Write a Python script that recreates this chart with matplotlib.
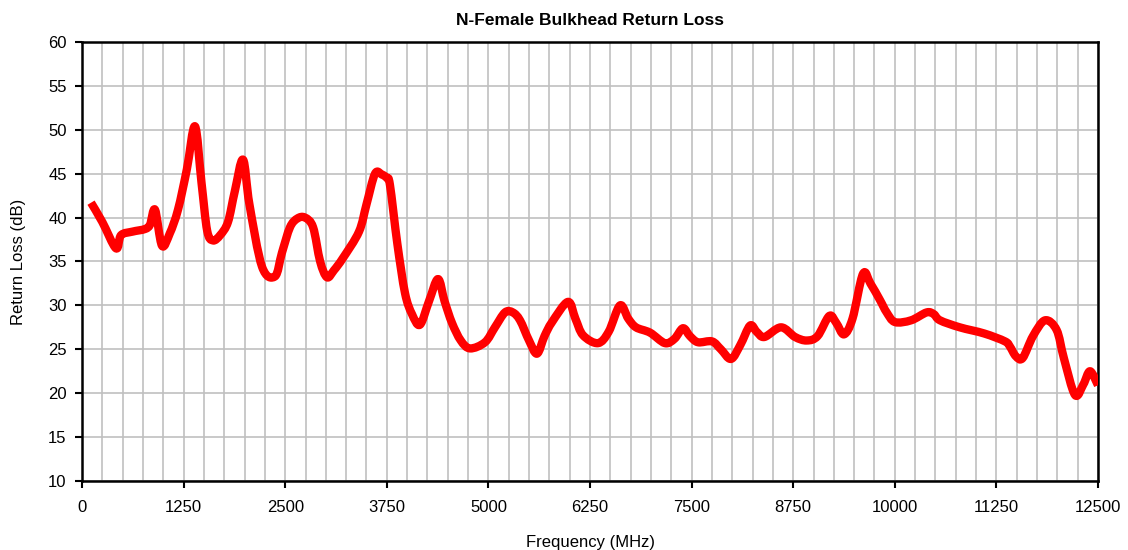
import matplotlib
matplotlib.use("Agg")
import matplotlib.pyplot as plt
from matplotlib.ticker import MultipleLocator
from matplotlib.path import Path
from matplotlib.patches import PathPatch

plt.rcParams['font.family'] = ['Liberation Sans', 'DejaVu Sans']

# data (MHz, dB)
freq = [111, 250, 418, 480, 620, 775, 837, 898, 984, 1080, 1181, 1290, 1390, 1470, 1540, 1611,
        1700, 1796, 1880, 1981, 2060, 2215, 2374, 2460, 2559, 2650, 2744, 2843, 2930, 3014,
        3100, 3211, 3408, 3500, 3605, 3690, 3752, 3789, 3880, 3974, 4060, 4158, 4270, 4380,
        4460, 4552, 4660, 4774, 4958, 5080, 5204, 5300, 5389, 5500, 5598, 5690, 5783, 5979,
        6070, 6164, 6348, 6480, 6619, 6720, 6816, 6988, 7172, 7290, 7394, 7480, 7579, 7751,
        7860, 7985, 8100, 8219, 8300, 8395, 8600, 8773, 8916, 9050, 9194, 9280, 9375, 9480,
        9609, 9700, 9818, 9900, 10002, 10200, 10392, 10480, 10556, 10800, 11100, 11356, 11417,
        11490, 11573, 11700, 11848, 11991, 12080, 12217, 12320, 12402, 12500]
rl = [41.7, 39.5, 36.5, 38.0, 38.4, 38.7, 39.2, 40.9, 36.8, 38.2, 40.9, 45.5, 50.4, 44.0, 38.5, 37.4,
      38.0, 39.5, 43.0, 46.6, 41.5, 34.4, 33.3, 36.0, 38.9, 39.9, 40.0, 38.9, 35.0, 33.2,
      34.0, 35.4, 38.4, 41.5, 45.0, 44.9, 44.5, 43.7, 37.0, 31.4, 29.0, 27.8, 30.5, 33.0,
      30.5, 28.0, 26.0, 25.1, 25.8, 27.5, 29.2, 29.2, 28.3, 26.0, 24.5, 26.5, 28.1, 30.4,
      28.5, 26.6, 25.7, 27.0, 30.0, 28.5, 27.5, 26.9, 25.7, 26.2, 27.4, 26.5, 25.8, 25.9,
      25.0, 23.9, 25.5, 27.7, 27.0, 26.4, 27.5, 26.4, 26.0, 26.5, 28.8, 28.0, 26.7, 28.5,
      33.6, 32.5, 30.6, 29.2, 28.1, 28.3, 29.2, 29.0, 28.3, 27.5, 26.8, 25.9, 25.3,
      24.2, 24.0, 26.5, 28.3, 27.2, 24.0, 19.8, 21.0, 22.5, 20.9]


def smooth_path(xs, ys, t=1 / 6):
    # Excel-style smoothed line: cubic Bezier segments through every point
    verts = [(xs[0], ys[0])]
    codes = [Path.MOVETO]
    n = len(xs)
    for i in range(n - 1):
        x0, y0 = (xs[i - 1], ys[i - 1]) if i > 0 else (xs[i], ys[i])
        x1, y1 = xs[i], ys[i]
        x2, y2 = xs[i + 1], ys[i + 1]
        x3, y3 = (xs[i + 2], ys[i + 2]) if i + 2 < n else (x2, y2)
        verts += [(x1 + t * (x2 - x0), y1 + t * (y2 - y0)),
                  (x2 - t * (x3 - x1), y2 - t * (y3 - y1)),
                  (x2, y2)]
        codes += [Path.CURVE4] * 3
    return Path(verts, codes)


fig = plt.figure(figsize=(11.28, 5.5), dpi=100)
ax = fig.add_axes([0.0727, 0.1255, 0.9007, 0.7981])

ax.add_patch(PathPatch(smooth_path(freq, rl), facecolor='none', edgecolor='#FF0000',
                       linewidth=6, joinstyle='round', capstyle='butt', zorder=3))

ax.set_xlim(0, 12500)
ax.set_ylim(10, 60)
ax.xaxis.set_major_locator(MultipleLocator(1250))
ax.xaxis.set_minor_locator(MultipleLocator(250))
ax.yaxis.set_major_locator(MultipleLocator(5))
ax.grid(True, which='both', axis='x', color='#C0C0C0', linewidth=1.2)
ax.grid(True, which='major', axis='y', color='#C0C0C0', linewidth=1.2)
ax.tick_params(which='minor', length=0)
ax.tick_params(which='major', direction='out', length=5, width=1.5, labelsize=12, colors='black')
ax.tick_params(axis='x', pad=9)
ax.tick_params(axis='y', pad=6)
for s in ax.spines.values():
    s.set_linewidth(1.8)
    s.set_color('black')

ax.set_title("N-Female Bulkhead Return Loss", fontsize=12.5, fontweight='bold', pad=12)
ax.set_xlabel("Frequency (MHz)", fontsize=12, labelpad=14)
ax.set_ylabel("Return Loss (dB)", fontsize=12, labelpad=16)

fig.savefig("out.png", dpi=100)
